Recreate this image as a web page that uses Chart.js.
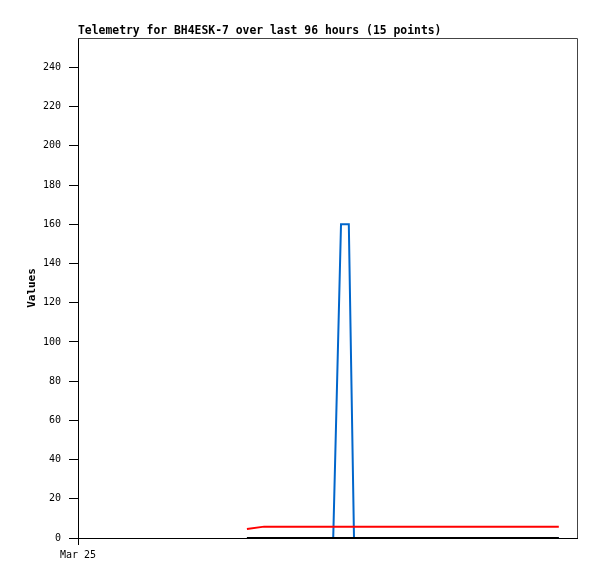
<!DOCTYPE html>
<html>
<head>
<meta charset="utf-8">
<script src="https://cdn.jsdelivr.net/npm/chart.js@4"></script>
<style>
  html, body { margin: 0; padding: 0; background: #fff; }
  #wrap { width: 597px; height: 579px; }
</style>
</head>
<body>
<div id="wrap"><canvas id="chart" width="597" height="579"></canvas></div>
<script>
// hours since Mar 25 00:00
const hours = [32.5, 35.8, 44.2, 49.1, 50.6, 52.1, 53.1, 58.4, 63.6, 68.9, 74.1, 79.3, 84.6, 89.8, 92.5];
const series0 = [0, 0, 0, 0, 0, 0, 0, 0, 0, 0, 0, 0, 0, 0, 0];          // black
const series1 = [4.6, 5.8, 5.8, 5.8, 5.8, 5.8, 5.8, 5.8, 5.8, 5.8, 5.8, 5.8, 5.8, 5.8, 5.8]; // red
const series2 = [0, 0, 0, 0, 160, 160, 0, 0, 0, 0, 0, 0, 0, 0, 0];      // blue
const xTickLabels = ['Mar 25'];
const xTickValues = [0];
const titleText = 'Telemetry for BH4ESK-7 over last 96 hours (15 points)';

function pts(vals) {
    return vals.map((v, i) => ({x: hours[i], y: v}));
}

const frame = {
    id: 'frame',
    beforeDatasetsDraw(chart) {
        const a = chart.chartArea;
        const c = chart.ctx;
        c.save();
        c.strokeStyle = '#444';
        c.lineWidth = 1;
        c.beginPath();
        c.moveTo(a.left, a.top + 0.5);
        c.lineTo(a.right + 0.5, a.top + 0.5);
        c.lineTo(a.right + 0.5, a.bottom);
        c.stroke();
        c.restore();
    }
};

const ctx = document.getElementById('chart');
const chart = new Chart(ctx, {
    type: 'line',
    data: {
        datasets: [
            {data: pts(series0), borderColor: '#000000', borderWidth: 2},
            {data: pts(series1), borderColor: '#ff0000', borderWidth: 2},
            {data: pts(series2), borderColor: '#0066cc', borderWidth: 2}
        ]
    },
    options: {
        animation: false,
        responsive: false,
        elements: {
            line: {tension: 0},
            point: {radius: 0}
        },
        layout: {padding: {left: 0, right: 20, top: 0, bottom: 0}},
        plugins: {
            legend: {display: false},
            tooltip: {enabled: false},
            title: {
                display: true,
                text: titleText,
                align: 'start',
                fullSize: false,
                color: '#000',
                padding: {top: 25, bottom: 0},
                font: {family: 'DejaVu Sans Mono', size: 11.4, weight: 'bold', lineHeight: '13px'}
            }
        },
        scales: {
            x: {
                type: 'linear',
                min: 0,
                max: 96,
                afterBuildTicks: (s) => { s.ticks = xTickValues.map(v => ({value: v})); },
                afterFit: (s) => { s.height = 41; },
                ticks: {
                    color: '#000',
                    padding: 4,
                    maxRotation: 0,
                    autoSkip: false,
                    font: {family: 'DejaVu Sans Mono', size: 10},
                    callback: (v, i) => xTickLabels[i]
                },
                grid: {drawOnChartArea: false, drawTicks: true, tickLength: 7, color: '#000'},
                border: {color: '#000', width: 1}
            },
            y: {
                min: 0,
                max: 255,
                afterFit: (s) => { s.width = 78; },
                ticks: {
                    stepSize: 20,
                    includeBounds: false,
                    color: '#000',
                    padding: 8,
                    font: {family: 'DejaVu Sans Mono', size: 10}
                },
                grid: {drawOnChartArea: false, drawTicks: true, tickLength: 9, color: '#000'},
                border: {color: '#000', width: 1},
                title: {
                    display: true,
                    text: 'Values',
                    color: '#000',
                    padding: {top: 25, bottom: 0},
                    font: {family: 'DejaVu Sans Mono', size: 11, weight: 'bold', lineHeight: '14px'}
                }
            }
        }
    },
    plugins: [frame]
});
</script>
</body>
</html>
